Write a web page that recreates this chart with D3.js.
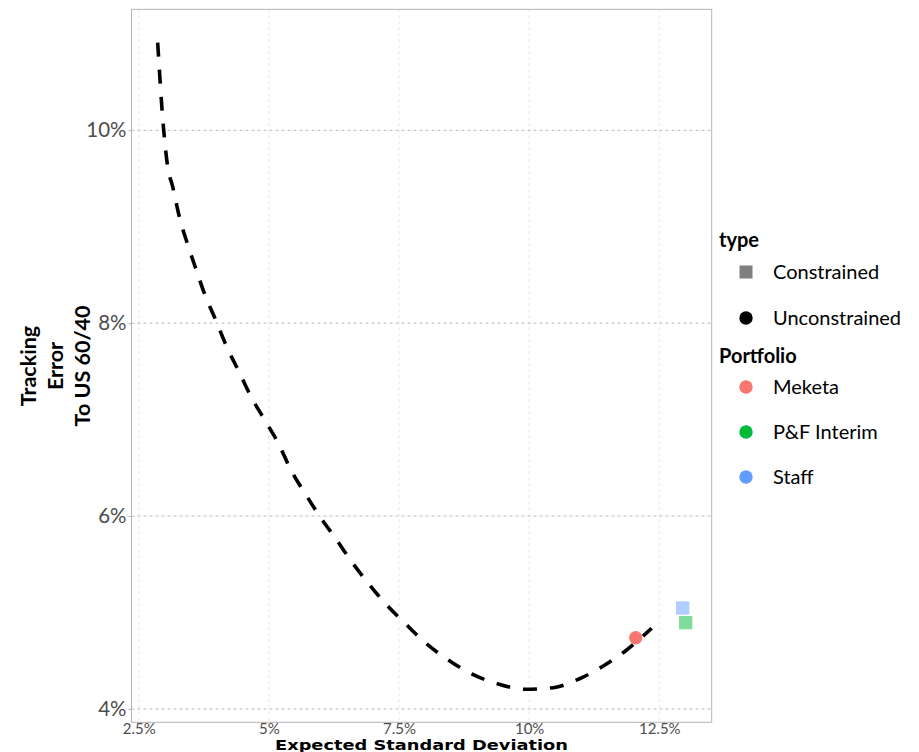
<!DOCTYPE html>
<html>
<head>
<meta charset="utf-8">
<script src="https://cdn.jsdelivr.net/npm/d3@7"></script>
<style>
  html, body { margin: 0; padding: 0; background: #ffffff; }
  svg { display: block; }
</style>
</head>
<body>
<svg id="chart" width="919" height="752"></svg>
<script>
// ---- data ----
const frontierSD = [2.863, 2.971, 3.055, 3.151, 3.278, 3.432, 3.593, 3.772, 3.977, 4.189, 4.425, 4.656, 4.880, 5.213, 5.405, 5.693, 5.981, 6.302, 6.590, 6.909, 7.263, 7.647, 8.031, 8.446, 8.896, 9.407, 9.920, 10.464, 10.957, 11.424, 11.874, 12.354];
const frontierTE = [10.908, 10.048, 9.623, 9.415, 9.104, 8.828, 8.569, 8.292, 8.033, 7.756, 7.497, 7.238, 7.031, 6.720, 6.496, 6.236, 5.994, 5.752, 5.527, 5.303, 5.078, 4.871, 4.674, 4.508, 4.363, 4.259, 4.204, 4.221, 4.311, 4.446, 4.612, 4.837];

const portfolioNames = ["Meketa", "P&F Interim", "Staff"];
const portfolioSD = [12.047, 13.007, 12.95];
const portfolioTE = [4.739, 4.895, 5.047];
const portfolioType = ["Unconstrained", "Constrained", "Constrained"];

const typeLevels = ["Constrained", "Unconstrained"];
const portfolioLevels = ["Meketa", "P&F Interim", "Staff"];
const portfolioColors = ["#F8766D", "#00BA38", "#619CFF"];

const xTicks = [2.5, 5, 7.5, 10, 12.5];
const xTickLabels = ["2.5%", "5%", "7.5%", "10%", "12.5%"];
const yTicks = [4, 6, 8, 10];
const yTickLabels = ["4%", "6%", "8%", "10%"];

// ---- layout ----
const panel = { left: 131.5, right: 711.7, top: 9.3, bottom: 722.3 };
const svg = d3.select("#chart");
const x = d3.scaleLinear().domain([2.36, 13.507]).range([panel.left, panel.right]);
const y = d3.scaleLinear().domain([3.862, 11.254]).range([panel.bottom, panel.top]);
const color = d3.scaleOrdinal().domain(portfolioLevels).range(portfolioColors);
const alpha = d3.scaleOrdinal().domain(typeLevels).range([0.5, 1]);
const calibriLike = "Lato, 'Open Sans', sans-serif";

// background
svg.append("rect").attr("width", 919).attr("height", 752).attr("fill", "#ffffff");

// vertical grid (faint)
svg.append("g").selectAll("line").data(xTicks).join("line")
  .attr("x1", d => x(d)).attr("x2", d => x(d))
  .attr("y1", panel.top).attr("y2", panel.bottom)
  .attr("stroke", "#e6e6e6").attr("stroke-width", 1).attr("stroke-dasharray", "3,3");

// horizontal grid
svg.append("g").selectAll("line").data(yTicks).join("line")
  .attr("x1", panel.left).attr("x2", panel.right)
  .attr("y1", d => y(d)).attr("y2", d => y(d))
  .attr("stroke", "#b8b8b8").attr("stroke-width", 1).attr("stroke-dasharray", "3,3");

// panel border
svg.append("rect")
  .attr("x", panel.left).attr("y", panel.top)
  .attr("width", panel.right - panel.left).attr("height", panel.bottom - panel.top)
  .attr("fill", "none").attr("stroke", "#b3b3b3").attr("stroke-width", 1);

// y axis
const yAxis = d3.axisLeft(y).tickValues(yTicks).tickFormat((d, i) => yTickLabels[i]).tickSize(3).tickPadding(2);
const gy = svg.append("g").attr("transform", `translate(${panel.left},0)`).call(yAxis);
gy.select(".domain").remove();
gy.selectAll(".tick line").attr("stroke", "#b3b3b3");
gy.selectAll(".tick text").attr("fill", "#4d4d4d").style("font-family", calibriLike).style("font-size", "20.5px");

// x axis
const xAxis = d3.axisBottom(x).tickValues(xTicks).tickFormat((d, i) => xTickLabels[i]).tickSize(0).tickPadding(1);
const gx = svg.append("g").attr("transform", `translate(0,${panel.bottom})`).call(xAxis);
gx.select(".domain").remove();
gx.selectAll(".tick text").attr("fill", "#4d4d4d").style("font-family", calibriLike).style("font-size", "15px");

// frontier curve
const frontier = frontierSD.map((d, i) => [d, frontierTE[i]]);
svg.append("path")
  .datum(frontier)
  .attr("d", d3.line().x(d => x(d[0])).y(d => y(d[1])).curve(d3.curveMonotoneX))
  .attr("fill", "none").attr("stroke", "#000").attr("stroke-width", 3.6)
  .attr("stroke-dasharray", "14,13");

// portfolio points
const pts = portfolioNames.map((n, i) => ({ name: n, sd: portfolioSD[i], te: portfolioTE[i], type: portfolioType[i] }));
const sq = 13.3;
svg.append("g").selectAll("rect").data(pts.filter(p => p.type === "Constrained")).join("rect")
  .attr("x", d => x(d.sd) - sq / 2).attr("y", d => y(d.te) - sq / 2)
  .attr("width", sq).attr("height", sq)
  .attr("fill", d => color(d.name)).attr("fill-opacity", d => alpha(d.type));
svg.append("g").selectAll("circle").data(pts.filter(p => p.type === "Unconstrained")).join("circle")
  .attr("cx", d => x(d.sd)).attr("cy", d => y(d.te)).attr("r", 6.7)
  .attr("fill", d => color(d.name)).attr("fill-opacity", d => alpha(d.type));

// axis titles
svg.append("text")
  .attr("x", 421.5).attr("y", 749.5)
  .attr("text-anchor", "middle")
  .attr("textLength", 293).attr("lengthAdjust", "spacingAndGlyphs")
  .style("font-family", "'DejaVu Sans', Verdana, sans-serif").style("font-weight", "bold").style("font-size", "13.6px")
  .attr("fill", "#000")
  .text("Expected Standard Deviation");

const yTitleLines = ["Tracking", "Error", "To US 60/40"];
const yt = svg.append("text")
  .attr("transform", "translate(0,366) rotate(-90)")
  .attr("text-anchor", "middle")
  .style("font-family", calibriLike).style("font-weight", "bold").style("font-size", "21.5px")
  .attr("fill", "#000");
yt.selectAll("tspan").data(yTitleLines).join("tspan")
  .attr("x", 0).attr("y", (d, i) => 36 + i * 27)
  .text(d => d);

// legends
const leg = svg.append("g").style("font-family", calibriLike).attr("fill", "#000");
leg.append("text").attr("x", 719).attr("y", 247).style("font-weight", "bold").style("font-size", "20px").text("type");
const typeY = [272, 318];
typeLevels.forEach((t, i) => {
  if (t === "Constrained") {
    leg.append("rect").attr("x", 746 - 6.5).attr("y", typeY[i] - 6.5).attr("width", 13).attr("height", 13)
      .attr("fill", "#000").attr("fill-opacity", alpha(t));
  } else {
    leg.append("circle").attr("cx", 746).attr("cy", typeY[i]).attr("r", 6.7)
      .attr("fill", "#000").attr("fill-opacity", alpha(t));
  }
  leg.append("text").attr("x", 773).attr("y", typeY[i] + 7).style("font-size", "20px").text(t);
});
leg.append("text").attr("x", 719).attr("y", 363).style("font-weight", "bold").style("font-size", "20px").text("Portfolio");
const portY = [387, 432, 477];
portfolioLevels.forEach((p, i) => {
  leg.append("circle").attr("cx", 746).attr("cy", portY[i]).attr("r", 6.7).attr("fill", color(p));
  leg.append("text").attr("x", 773).attr("y", portY[i] + 7).style("font-size", "20px").text(p);
});
</script>
</body>
</html>
